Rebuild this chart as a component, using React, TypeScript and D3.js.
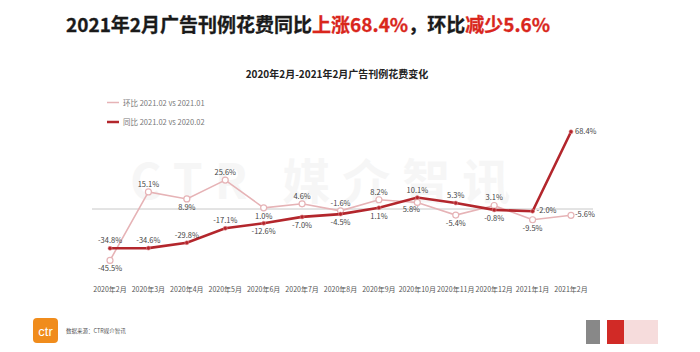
import { useMemo } from 'react';
import { scaleLinear, scalePoint, line } from 'd3';

const months = [
  '2020年2月', '2020年3月', '2020年4月', '2020年5月', '2020年6月', '2020年7月',
  '2020年8月', '2020年9月', '2020年10月', '2020年11月', '2020年12月', '2021年1月', '2021年2月',
];

// 环比 (month on month)
const momValues = [-45.5, 15.1, 8.9, 25.6, 1.0, 4.6, -1.6, 8.2, 5.8, -5.4, 3.1, -9.5, -5.6];
// 同比 (year on year)
const yoyValues = [-34.8, -34.6, -29.8, -17.1, -12.6, -7.0, -4.5, 1.1, 10.1, 5.3, -0.8, -2.0, 68.4];

const momLegend = '环比 2021.02 vs 2021.01';
const yoyLegend = '同比 2021.02 vs 2020.02';

type Place = 'a' | 'b' | 'r' | 'bl';
const momPlace: Place[] = ['b', 'a', 'b', 'a', 'b', 'a', 'a', 'a', 'bl', 'b', 'a', 'b', 'r'];
const yoyPlace: Place[] = ['a', 'a', 'a', 'a', 'b', 'b', 'b', 'b', 'a', 'a', 'b', 'r', 'r'];

const W = 700, H = 352;
const FONT = '"Noto Sans CJK SC", "Noto Sans", sans-serif';
const RED = '#b3262c';
const PINK = '#e6b3b6';

const fmt = (v: number) => `${v.toFixed(1)}%`;

function labelPos(x: number, y: number, p: Place) {
  if (p === 'a') return { x, y: y - 5, anchor: 'middle' };
  if (p === 'b') return { x, y: y + 11, anchor: 'middle' };
  if (p === 'bl') return { x: x - 6, y: y + 10, anchor: 'middle' };
  return { x: x + 4, y: y + 2, anchor: 'start' };
}

export default function App() {
  const x = useMemo(() => scalePoint<string>().domain(months).range([110, 571]), []);
  const y = useMemo(() => scaleLinear().domain([-50, 70]).range([265.5, 129.9]), []);

  const path = (vals: number[]) =>
    line<number>()
      .x((_, i) => x(months[i]) as number)
      .y((d) => y(d))(vals) as string;

  return (
    <svg
      width={W}
      height={H}
      style={{ position: 'fixed', left: 0, top: 0, background: '#fff' }}
      fontFamily={FONT}
    >
      <rect width={W} height={H} fill="#fff" />
      <text x={66} y={32} fontSize={19} fontWeight="bold" fill="#1a1a1a" stroke="#1a1a1a" strokeWidth={0.3}>
        2021年2月广告刊例花费同比
        <tspan fill="#d9261c" stroke="#d9261c">上涨68.4%</tspan>，环比
        <tspan fill="#d9261c" stroke="#d9261c">减少5.6%</tspan>
      </text>

      {/* watermark */}
      <text x={130} y={199} fontSize={48} fontWeight="bold" fill="#000" opacity={0.03} letterSpacing={12}>
        CTR 媒介智讯
      </text>

      <text x={337} y={78} fontSize={10} fontWeight="bold" fill="#222" textAnchor="middle">
        2020年2月-2021年2月广告刊例花费变化
      </text>

      {/* legend */}
      <g fontSize={7.5} fill="#777">
        <line x1={107} x2={119} y1={102.5} y2={102.5} stroke={PINK} strokeWidth={1.5} />
        <text x={123} y={105.5}>{momLegend}</text>
        <line x1={107} x2={119} y1={122} y2={122} stroke={RED} strokeWidth={2.5} />
        <text x={123} y={125}>{yoyLegend}</text>
      </g>

      {/* zero line */}
      <line x1={92} x2={593} y1={y(0)} y2={y(0)} stroke="#c8c8c8" strokeWidth={1} />

      <path d={path(momValues)} fill="none" stroke={PINK} strokeWidth={1.6} />
      {momValues.map((v, i) => (
        <circle key={'m' + i} cx={x(months[i])} cy={y(v)} r={3} fill="#fff" stroke={PINK} strokeWidth={1.2} />
      ))}

      <path d={path(yoyValues)} fill="none" stroke={RED} strokeWidth={2.6} />
      {yoyValues.map((v, i) => (
        <circle key={'y' + i} cx={x(months[i])} cy={y(v)} r={2} fill={RED} stroke="#e08a8e" strokeWidth={0.6} />
      ))}

      <g fontSize={7.5} fill="#444">
        {momValues.map((v, i) => {
          const p = labelPos(x(months[i]) as number, y(v), momPlace[i]);
          return (
            <text key={'ml' + i} x={p.x} y={p.y} textAnchor={p.anchor}>
              {fmt(v)}
            </text>
          );
        })}
        {yoyValues.map((v, i) => {
          const p = labelPos(x(months[i]) as number, y(v), yoyPlace[i]);
          return (
            <text key={'yl' + i} x={p.x} y={p.y} textAnchor={p.anchor}>
              {fmt(v)}
            </text>
          );
        })}
      </g>

      {/* x axis labels */}
      <g fontSize={7} fill="#555" textAnchor="middle">
        {months.map((m) => (
          <text key={m} x={x(m)} y={292}>
            {m}
          </text>
        ))}
      </g>

      {/* footer */}
      <rect x={33} y={318} width={25} height={25} rx={4} fill="#f08c1c" />
      <text x={45.5} y={336} fontSize={13} fill="#fff" textAnchor="middle" fontFamily="Liberation Sans, sans-serif">
        ctr
      </text>
      <text x={66} y={333} fontSize={5.5} fill="#555">
        数据来源：CTR媒介智讯
      </text>
      <rect x={586} y={320} width={14} height={24} fill="#555" opacity={0.7} />
      <rect x={607} y={320} width={17} height={24} fill="#d12a26" />
      <rect x={624} y={320} width={34} height={24} fill="#f6dcdc" />
    </svg>
  );
}
